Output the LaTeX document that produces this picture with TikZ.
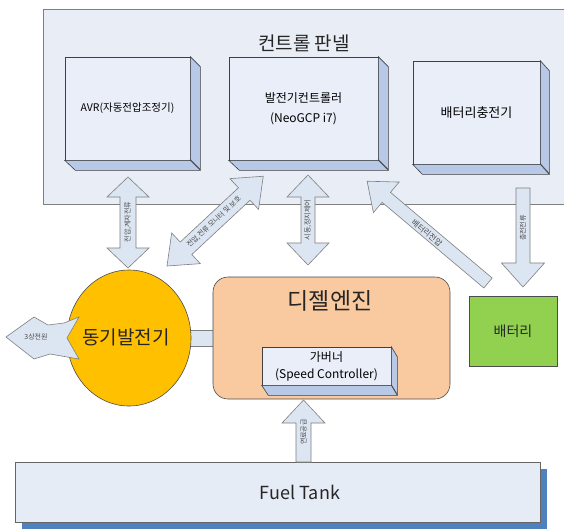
\documentclass[tikz,border=0pt]{standalone}
\usepackage{fontspec}
\setmainfont{Noto Sans CJK KR}
\usetikzlibrary{shapes.geometric}
\definecolor{panelfill}{HTML}{E8EDF6}
\definecolor{frontfill}{HTML}{E9EEF8}
\definecolor{sidefill}{HTML}{B7C9E6}
\definecolor{arrowfill}{HTML}{DCE6F2}
\definecolor{arrowline}{HTML}{7F7F7F}
\definecolor{genfill}{HTML}{FFC000}
\definecolor{engfill}{HTML}{F9C9A0}
\definecolor{batfill}{HTML}{92D050}
\definecolor{tankfill}{HTML}{E6ECF5}
\definecolor{tankshadow}{HTML}{4F81BD}
\newcommand{\myDbl}[4]{(0,0) -- (#2,#3) -- (#2,#4) -- ({#1-#2},#4) -- ({#1-#2},#3) -- (#1,0) -- ({#1-#2},-#3) -- ({#1-#2},-#4) -- (#2,-#4) -- (#2,-#3) -- cycle}
\newcommand{\mySgl}[4]{(0,#4) -- ({#1-#2},#4) -- ({#1-#2},#3) -- (#1,0) -- ({#1-#2},-#3) -- ({#1-#2},-#4) -- (0,-#4) -- cycle}
\tikzset{
  panelbox/.style={draw=arrowline, fill=panelfill},
  frontbox/.style={draw=black!75, fill=frontfill, line width=0.6pt, inner sep=0pt, align=center},
  sideface/.style={draw=black!75, fill=sidefill, line width=0.6pt},
  blockarrow/.style={draw=arrowline, fill=arrowfill, line width=0.6pt, line join=miter},
  arrowtext/.style={font=\fontsize{7}{8}\selectfont, text=black!70, inner sep=0pt},
}
\begin{document}
\begin{tikzpicture}[x=1pt,y=1pt]
\useasboundingbox (0,0) rectangle (564,-531);
\fill[white] (0,0) rectangle (564,-531);

% control panel
\draw[panelbox] (43,-9) rectangle (575,-204);
\node[font=\fontsize{19}{22}\selectfont, text=black!85] (title) at (304,-43) {컨트롤 판넬};

% AVR box
\node[frontbox, minimum width=125pt, minimum height=103pt, font=\fontsize{10.5}{13}\selectfont] (avr) at (127.5,-108.5) {AVR(자동전압조정기)};
\draw[sideface] (avr.north east) -- ++(10,-10) -- ++(0,-103) -- ++(-10,10) -- cycle;
\draw[sideface] (avr.south west) -- (avr.south east) -- ++(10,-10) -- ++(-125,0) -- cycle;

% generator controller
\node[frontbox, minimum width=149pt, minimum height=103pt, font=\fontsize{12}{20}\selectfont] (gcp) at (303.5,-108.5) {발전기컨트롤러\\(NeoGCP i7)};
\draw[sideface] (gcp.north east) -- ++(10,-10) -- ++(0,-103) -- ++(-10,10) -- cycle;
\draw[sideface] (gcp.south west) -- (gcp.south east) -- ++(10,-10) -- ++(-149,0) -- cycle;

% battery charger
\node[frontbox, minimum width=127pt, minimum height=103pt, font=\fontsize{13}{16}\selectfont] (chg) at (476.5,-112.5) {배터리충전기};
\draw[sideface] (chg.north east) -- ++(9,-10) -- ++(0,-103) -- ++(-9,10) -- cycle;
\draw[sideface] (chg.south west) -- (chg.south east) -- ++(9,-10) -- ++(-127,0) -- cycle;

% generator - engine coupling
\draw[blockarrow] (185,-330) rectangle (214,-346);

% synchronous generator
\node[ellipse, draw=black!70, fill=genfill, line width=0.6pt, minimum width=124pt, minimum height=136pt, inner sep=0pt] (gen) at (129,-338) {};
\node[font=\fontsize{19}{22}\selectfont, text=black!85] (gentext) at (126,-337) {동기발전기};

% diesel engine
\node[draw=black!70, fill=engfill, line width=0.6pt, rounded corners=15pt, minimum width=237pt, minimum height=122pt] (eng) at (331.5,-338) {};
\node[font=\fontsize{23}{26}\selectfont, text=black!85] (engtext) at (330,-301) {디젤엔진};

% governor
\node[frontbox, minimum width=129pt, minimum height=38pt, font=\fontsize{12}{17}\selectfont] (gov) at (326.5,-366) {가버너\\(Speed Controller)};
\draw[sideface] (gov.north east) -- ++(6,-10) -- ++(0,-38) -- ++(-6,10) -- cycle;
\draw[sideface] (gov.south west) -- (gov.south east) -- ++(6,-10) -- ++(-129,0) -- cycle;

% battery
\node[draw=black!70, fill=batfill, line width=0.6pt, minimum width=88pt, minimum height=70pt, font=\fontsize{14}{16}\selectfont, text=black!85] (bat) at (513,-331) {배터리};

% fuel tank
\fill[tankshadow] (22,-469) rectangle (547,-529);
\node[draw=black!60, fill=tankfill, line width=0.6pt, minimum width=525pt, minimum height=60pt] (tank) at (277.5,-492) {};
\node[font=\fontsize{18}{20}\selectfont, text=black!85] (tanktext) at (300,-492) {Fuel Tank};

% arrows
\begin{scope}[shift={(128,-177)}, rotate=-90]
  \draw[blockarrow] \myDbl{91}{20}{21}{8};
\end{scope}
\node[arrowtext, rotate=90] (avrlbl) at (128,-222) {전압,계자전류};

\begin{scope}[shift={(308,-175)}, rotate=-90]
  \draw[blockarrow] \myDbl{90}{22}{21}{7};
\end{scope}
\node[arrowtext, rotate=90] (gcplbl) at (308,-220) {시동,정지제어};

\begin{scope}[shift={(523,-188)}, rotate=-90]
  \draw[blockarrow] \mySgl{99}{24}{21.5}{7};
\end{scope}
\node[arrowtext, rotate=90] (chglbl) at (523,-228) {충전전류};

\begin{scope}[shift={(303.5,-462)}, rotate=90]
  \draw[blockarrow] \mySgl{62}{23}{21.5}{7.5};
\end{scope}
\node[arrowtext, rotate=90] (fuellbl) at (303.5,-432) {연료공급};

\begin{scope}[shift={(488,-283)}, rotate=139.9]
  \draw[blockarrow] \mySgl{158}{25}{20}{6.5};
\end{scope}
\node[arrowtext, rotate=-40, font=\fontsize{8}{9}\selectfont] (batlbl) at (427,-233) {배터리전압};

\begin{scope}[shift={(167,-266)}, rotate=43]
  \draw[blockarrow] \myDbl{131.6}{26}{21}{8.5};
\end{scope}
\node[arrowtext, rotate=43] (monlbl) at (214,-222) {전압,전류 모니터 및 보호};

\draw[blockarrow] (6,-337) -- (34,-317) -- (48,-325) -- (64,-323) -- (79,-317) -- (67,-338) -- (79,-359) -- (50,-354) -- (34,-359) -- cycle;
\node[arrowtext] (outlbl) at (36,-337) {3상전원};
\end{tikzpicture}
\end{document}
